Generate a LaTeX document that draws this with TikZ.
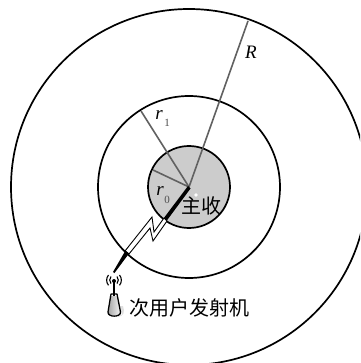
\documentclass[tikz,border=0pt]{standalone}
\usepackage{fontspec}
\newfontfamily\cjk{Noto Sans CJK SC}[Scale=1]
\newfontfamily\latinlab{Liberation Serif}
\tikzset{
  ring/.style={draw=black,line width=1.7pt},
  radius line/.style={draw=black!62,line width=1.6pt},
  lab/.style={inner sep=0pt,font=\latinlab\fontsize{19}{19}\selectfont\itshape},
  sub/.style={inner sep=0pt,font=\latinlab\fontsize{11}{11}\selectfont,text=black!70},
  cjklab/.style={inner sep=0pt,anchor=west,font=\cjk\fontsize{20}{20}\selectfont}
}
\begin{document}
\begin{tikzpicture}[x=1pt,y=-1pt]
\useasboundingbox (0,0) rectangle (360,363);
\fill[white] (0,0) rectangle (360,363);
\coordinate (c) at (189,187);
\begin{scope}
\clip (0,0) rectangle (360,363);
\draw[ring] (c) circle[radius=178];
\end{scope}
\draw[ring] (c) circle[radius=91];
\draw[ring,fill=black!20] (c) circle[radius=41];
\coordinate (eR) at (248,21);
\coordinate (er1) at (141,111);
\coordinate (er0) at (153,170);
\draw[radius line] (c) -- (eR);
\draw[radius line] (c) -- (er1);
\draw[radius line] (c) -- (er0);
\node[lab] (lR) at (251,52) {R};
\node[lab] (lr1) at (159,115) {r};
\node[sub] (lr1s) at (167,123) {1};
\node[lab] (lr0) at (160,191) {r};
\node[sub] (lr0s) at (167,200) {0};
\fill[white] (196,195) circle[radius=1.8];
\node[cjklab] (main) at (181,206) {主收};
% lightning
\fill[black] (188,186) -- (190.5,188.5) -- (166.5,221) -- (163.5,218.5) -- cycle;
\draw[black,line width=0.9pt,fill=white,line join=miter]
  (164,218) -- (154,232) -- (152,217) -- (125,251) -- (129,254) -- (150,228) -- (153,241) -- (167,221) -- cycle;
\fill[black] (125.5,250.5) -- (129,253.5) -- (114.5,273) -- (113,272) -- cycle;
% antenna
\coordinate (ant) at (114,290);
\draw[black,line width=1.3pt] (114,281) -- (114,296);
\fill[black] (114,281) circle[radius=2];
\foreach \s in {1,-1}{
  \draw[black,line width=1.1pt] (114+\s*3,276.5) arc[start angle=90-\s*90+\s*(-40),end angle=90-\s*90+\s*40,radius=5.5];
  \draw[black,line width=1.1pt] (114+\s*5.5,275) arc[start angle=90-\s*90+\s*(-40),end angle=90-\s*90+\s*40,radius=8];
}
% body
\fill[black!12] (120,306) -- (123,306) .. controls (125,312) and (124,316) .. (118,317) -- cycle;
\shade[left color=black!35,right color=white] (110,296) -- (118,296) -- (122,315) -- (108,315) -- cycle;
\draw[black,line width=1.3pt,line join=round] (111,294) -- (117,294) -- (120.5,312) .. controls (121,317.5) and (107.5,317.5) .. (108,312) -- cycle;
\node[cjklab] (tx) at (129,308) {次用户发射机};
\end{tikzpicture}
\end{document}
